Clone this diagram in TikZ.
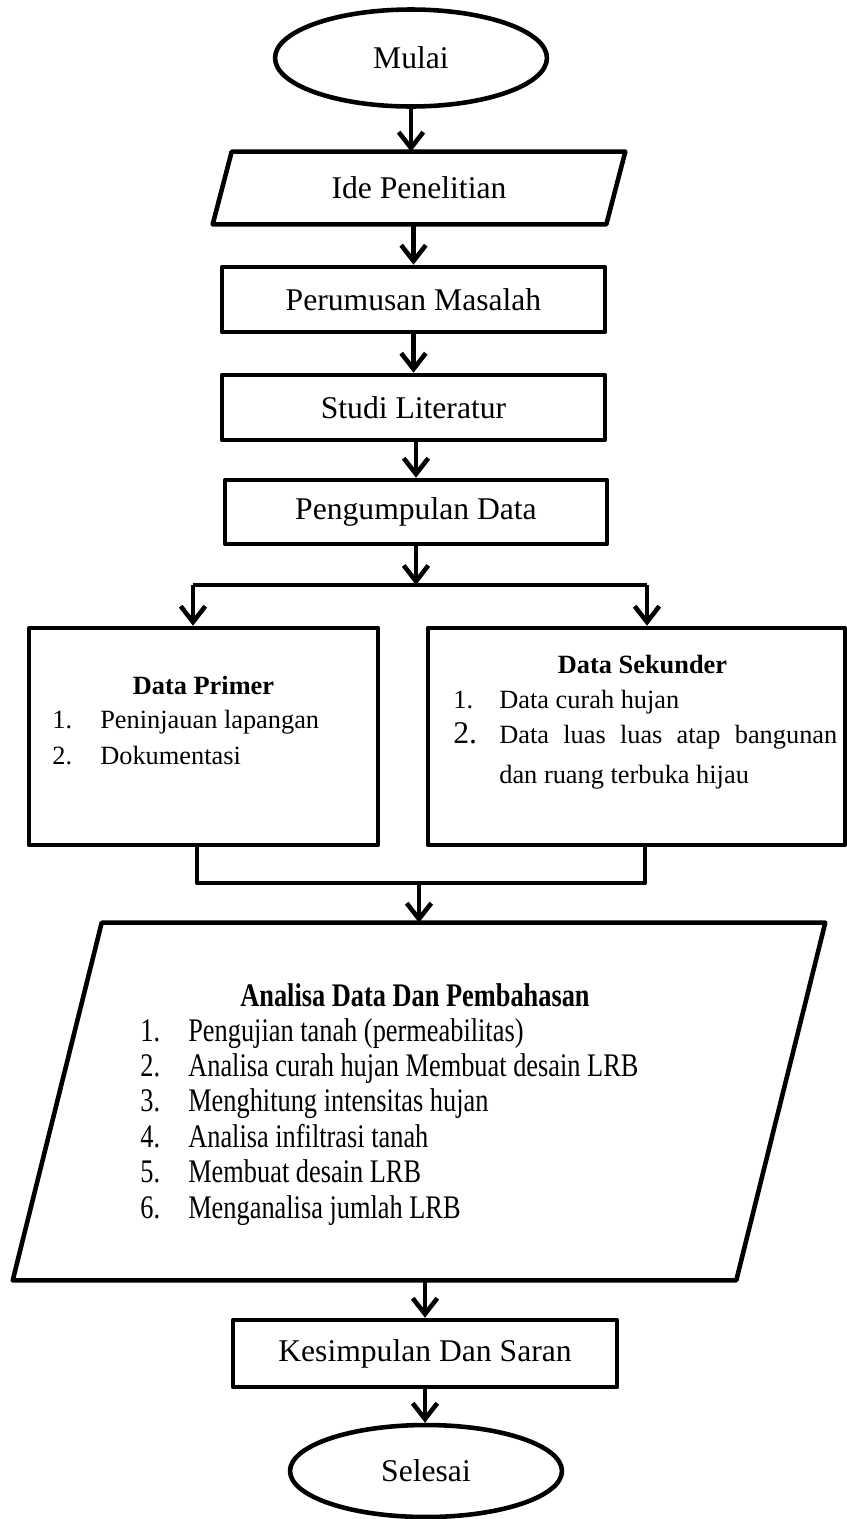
\documentclass[tikz,border=0pt]{standalone}
\usepackage{fontspec}
\usepackage{graphicx}
\setmainfont{Liberation Serif}
\usetikzlibrary{shapes.geometric, arrows.meta}

\newcommand{\tinggi}[1]{\scalebox{1}[1.25]{#1}}

\begin{document}
\begin{tikzpicture}[x=0.02cm, y=-0.02cm,
		garis/.style={line width=2.6pt, line join=round},
		terminal/.style={garis, ellipse, draw, minimum width=5.44cm, minimum height=1.94cm, font=\fontsize{18}{22}\selectfont},
		proses/.style={garis, rectangle, draw, minimum width=7.66cm, minimum height=1.3cm, font=\fontsize{18}{22}\selectfont},
		io/.style={rectangle, font=\fontsize{18}{22}\selectfont},
		kotak/.style={garis, rectangle, draw, minimum height=4.34cm},
		isi/.style={font=\fontsize{15}{20}\selectfont, inner sep=0pt, text height=10.5pt, text depth=3.5pt},
		panah/.style={garis, -{Straight Barb[length=9pt, width=14pt]}}]
	\useasboundingbox (0,0) rectangle (847,1519);
	
	% Nodes
	\node[terminal] (mulai) at (411,58) {Mulai};
	\node[io, minimum width=7.86cm, minimum height=1.44cm] (ide) at (419,188) {Ide Penelitian};
	\draw[garis] ([xshift=0.19cm]ide.north west) -- ([xshift=0.19cm]ide.north east) -- ([xshift=-0.19cm]ide.south east) -- ([xshift=-0.19cm]ide.south west) -- cycle;
	\node[proses] (rumusan) at (413.5,299.5) {Perumusan Masalah};
	\node[proses] (studi) at (413.5,407.5) {Studi Literatur};
	\node[proses, minimum width=7.64cm, minimum height=1.28cm] (kumpul) at (416,512) {Pengumpulan Data};
	
	\coordinate (cabang) at (416,585);
	\coordinate (cabangkiri) at (193,585);
	\coordinate (cabangkanan) at (647,585);
	
	\node[kotak, minimum width=6.98cm] (primer) at (203.5,736.5) {};
	\node[isi] (judulprimer) at (203.5,688) {\textbf{Data Primer}};
	\node[isi, anchor=west] (primer1) at (52,722) {\makebox[0.96cm][l]{1.}Peninjauan lapangan};
	\node[isi, anchor=west] (primer2) at (52,758) {\makebox[0.96cm][l]{2.}Dokumentasi};
	
	\node[kotak, minimum width=8.34cm] (sekunder) at (636.5,736.5) {};
	\node[isi] (judulsekunder) at (642.5,667) {\textbf{Data Sekunder}};
	\node[isi, anchor=west] (sekunder1) at (453,702) {\makebox[0.92cm][l]{1.}Data curah hujan};
	\node[isi, anchor=west] (sekunder2) at (453,737) {\makebox[0.92cm][l]{\fontsize{18}{20}\selectfont 2.}\makebox[6.76cm][s]{Data luas luas atap bangunan}};
	\node[isi, anchor=west] (sekunder3) at (499,777) {dan ruang terbuka hijau};
	
	\coordinate (gabung) at (419,883);
	\coordinate (gabungkiri) at (197,883);
	\coordinate (gabungkanan) at (645,883);
	
	\node[io, minimum width=14.46cm, minimum height=7.14cm] (analisa) at (419,1101.5) {};
	\draw[garis] ([xshift=0.89cm]analisa.north west) -- ([xshift=0.89cm]analisa.north east) -- ([xshift=-0.89cm]analisa.south east) -- ([xshift=-0.89cm]analisa.south west) -- cycle;
	\node[isi] (judulanalisa) at (415,1000) {\tinggi{\textbf{Analisa Data Dan Pembahasan}}};
	\node[isi, anchor=west] (analisa1) at (140,1035) {\tinggi{\makebox[0.96cm][l]{1.}Pengujian tanah (permeabilitas)}};
	\node[isi, anchor=west] (analisa2) at (140,1070.4) {\tinggi{\makebox[0.96cm][l]{2.}Analisa curah hujan Membuat desain LRB}};
	\node[isi, anchor=west] (analisa3) at (140,1105.8) {\tinggi{\makebox[0.96cm][l]{3.}Menghitung intensitas hujan}};
	\node[isi, anchor=west] (analisa4) at (140,1141.2) {\tinggi{\makebox[0.96cm][l]{4.}Analisa infiltrasi tanah}};
	\node[isi, anchor=west] (analisa5) at (140,1176.6) {\tinggi{\makebox[0.96cm][l]{5.}Membuat desain LRB}};
	\node[isi, anchor=west] (analisa6) at (140,1212) {\tinggi{\makebox[0.96cm][l]{6.}Menganalisa jumlah LRB}};
	
	\node[proses, minimum width=7.68cm, minimum height=1.34cm] (simpul) at (425,1353.5) {Kesimpulan Dan Saran};
	\node[terminal, minimum height=1.84cm] (selesai) at (426,1471) {Selesai};
	
	% Edges
	\draw[panah] (mulai.south) -- (mulai.south |- ide.north);
	\draw[panah] (rumusan.north |- ide.south) -- (rumusan.north);
	\draw[panah] (studi.north |- rumusan.south) -- (studi.north);
	\draw[panah] (kumpul.north |- studi.south) -- (kumpul.north);
	\draw[panah] (kumpul.south) -- (cabang);
	\draw[garis] (cabangkiri) -- (cabangkanan);
	\draw[panah] (cabangkiri) -- (cabangkiri |- primer.north);
	\draw[panah] (cabangkanan) -- (cabangkanan |- sekunder.north);
	\draw[garis] (gabungkiri |- primer.south) -- (gabungkiri) -- (gabungkanan) -- (gabungkanan |- sekunder.south);
	\draw[panah] (gabung) -- (gabung |- analisa.north);
	\draw[panah] (simpul.north |- analisa.south) -- (simpul.north);
	\draw[panah] (simpul.south) -- (simpul.south |- selesai.north);
\end{tikzpicture}
\end{document}
